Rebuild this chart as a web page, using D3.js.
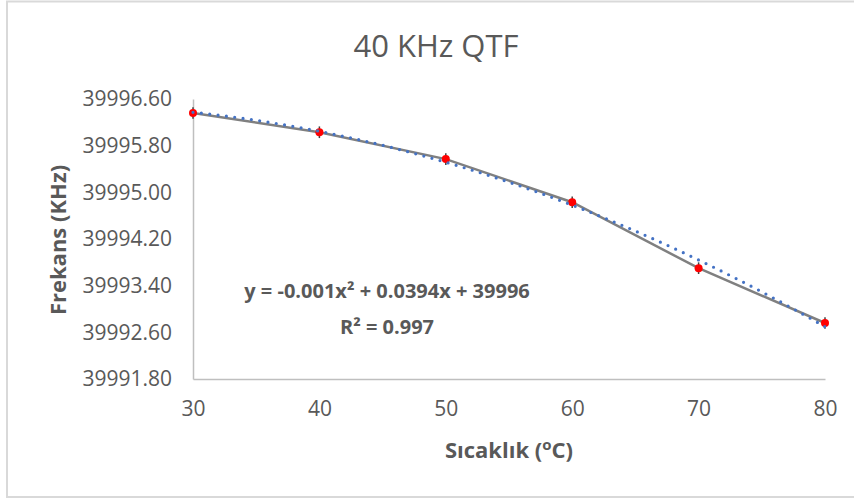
<!DOCTYPE html>
<html>
<head>
<meta charset="utf-8">
<script src="https://cdn.jsdelivr.net/npm/d3@7"></script>
<style>
  body { margin: 0; background: #fff; }
  svg { display: block; font-family: "Open Sans", sans-serif; }
</style>
</head>
<body>
<div id="chart"></div>
<script>
// values
var temps = [30, 40, 50, 60, 70, 80];
var freqs = [39996.36, 39996.03, 39995.57, 39994.83, 39993.70, 39992.76];
var errs = [0.1, 0.1, 0.1, 0.1, 0.1, 0.1];
var yTicks = [39991.80, 39992.60, 39993.40, 39994.20, 39995.00, 39995.80, 39996.60];
var xTicks = [30, 40, 50, 60, 70, 80];
var eqLines = ["y = -0.001x\u00b2 + 0.0394x + 39996", "R\u00b2 = 0.997"];

var width = 854, height = 499;
var margin = {top: 99, right: 29, bottom: 120, left: 193};

var svg = d3.select("#chart").append("svg")
  .attr("width", width)
  .attr("height", height);

// chart area border
svg.append("rect")
  .attr("x", 7).attr("y", 1.5)
  .attr("width", 880).attr("height", 495.5)
  .attr("fill", "#fff")
  .attr("stroke", "#d9d9d9")
  .attr("stroke-width", 2);

var x = d3.scaleLinear()
  .domain([30, 80])
  .range([margin.left, width - margin.right]);

var y = d3.scaleLinear()
  .domain([39991.8, 39996.6])
  .range([height - margin.bottom, margin.top]);

// axes
var xAxis = g => g
  .attr("transform", `translate(0,${y(39991.8)})`)
  .call(d3.axisBottom(x).tickValues(xTicks).tickSize(0).tickPadding(22).tickFormat(d3.format("d")))
  .call(g => g.select(".domain").attr("stroke", "#bfbfbf").attr("stroke-width", 1.5));

var yAxis = g => g
  .attr("transform", `translate(${x(30)},0)`)
  .call(d3.axisLeft(y).tickValues(yTicks).tickSize(0).tickPadding(21).tickFormat(d3.format(".2f")))
  .call(g => g.select(".domain").attr("stroke", "#bfbfbf").attr("stroke-width", 1.5));

svg.append("g").call(xAxis);
svg.append("g").call(yAxis);

svg.selectAll(".tick text")
  .attr("fill", "#595959")
  .style("font-size", "21px")
  .style("font-family", "Open Sans, sans-serif");

// title
svg.append("text")
  .attr("x", 436).attr("y", 57)
  .attr("text-anchor", "middle")
  .attr("fill", "#595959")
  .style("font-size", "31px")
  .text("40 KHz QTF");

// axis titles
svg.append("text")
  .attr("transform", "translate(66,240) rotate(-90)")
  .attr("text-anchor", "middle")
  .attr("fill", "#595959")
  .style("font-size", "22px")
  .style("font-weight", "bold")
  .text("Frekans (KHz)");

var xt = svg.append("text")
  .attr("x", 509).attr("y", 458)
  .attr("text-anchor", "middle")
  .attr("fill", "#595959")
  .style("font-size", "22px")
  .style("font-weight", "bold");
xt.append("tspan").text("Sıcaklık (");
xt.append("tspan").attr("dy", -8).style("font-size", "15px").text("o");
xt.append("tspan").attr("dy", 8).text("C)");

// data
var data = temps.map((t, i) => ({t: t, f: freqs[i], e: errs[i]}));

svg.append("path")
  .datum(data)
  .attr("fill", "none")
  .attr("stroke", "#808080")
  .attr("stroke-width", 2.5)
  .attr("d", d3.line().x(d => x(d.t)).y(d => y(d.f)));

// error bars
svg.append("g")
  .attr("stroke", "#404040")
  .attr("stroke-width", 1.5)
  .selectAll("line")
  .data(data)
  .enter().append("line")
  .attr("x1", d => x(d.t)).attr("x2", d => x(d.t))
  .attr("y1", d => y(d.f - d.e)).attr("y2", d => y(d.f + d.e));

svg.append("g")
  .attr("fill", "#ff0000")
  .selectAll("circle")
  .data(data)
  .enter().append("circle")
  .attr("cx", d => x(d.t))
  .attr("cy", d => y(d.f))
  .attr("r", 4);

// polynomial (order 2) trendline, least squares from the data
function polyFit(xs, ys) {
  var n = xs.length, s = [0, 0, 0, 0, 0], t = [0, 0, 0];
  for (var i = 0; i < n; i++) {
    var xv = xs[i] - 55, p = 1;
    for (var k = 0; k < 5; k++) { s[k] += p; if (k < 3) t[k] += p * ys[i]; p *= xv; }
  }
  var A = [[s[0], s[1], s[2], t[0]], [s[1], s[2], s[3], t[1]], [s[2], s[3], s[4], t[2]]];
  for (var c = 0; c < 3; c++) {
    for (var r = c + 1; r < 3; r++) {
      var f = A[r][c] / A[c][c];
      for (var k2 = c; k2 < 4; k2++) A[r][k2] -= f * A[c][k2];
    }
  }
  var b = [0, 0, 0];
  for (var r2 = 2; r2 >= 0; r2--) {
    var sum = A[r2][3];
    for (var k3 = r2 + 1; k3 < 3; k3++) sum -= A[r2][k3] * b[k3];
    b[r2] = sum / A[r2][r2];
  }
  return xv => b[0] + b[1] * (xv - 55) + b[2] * (xv - 55) * (xv - 55);
}
var fit = polyFit(temps, freqs);
var fitPts = d3.range(30, 80.01, 0.5).map(t => ({t: t, f: fit(t)}));

svg.append("path")
  .datum(fitPts)
  .attr("fill", "none")
  .attr("stroke", "#4472c4")
  .attr("stroke-width", 3.2)
  .attr("stroke-linecap", "round")
  .attr("stroke-dasharray", "0 8.4")
  .attr("d", d3.line().x(d => x(d.t)).y(d => y(d.f)));

// equation label
svg.append("g")
  .attr("fill", "#595959")
  .style("font-size", "20px")
  .style("font-weight", "bold")
  .selectAll("text")
  .data(eqLines)
  .enter().append("text")
  .attr("x", 387)
  .attr("y", (d, i) => 298 + i * 36)
  .attr("text-anchor", "middle")
  .text(d => d);
</script>
</body>
</html>
